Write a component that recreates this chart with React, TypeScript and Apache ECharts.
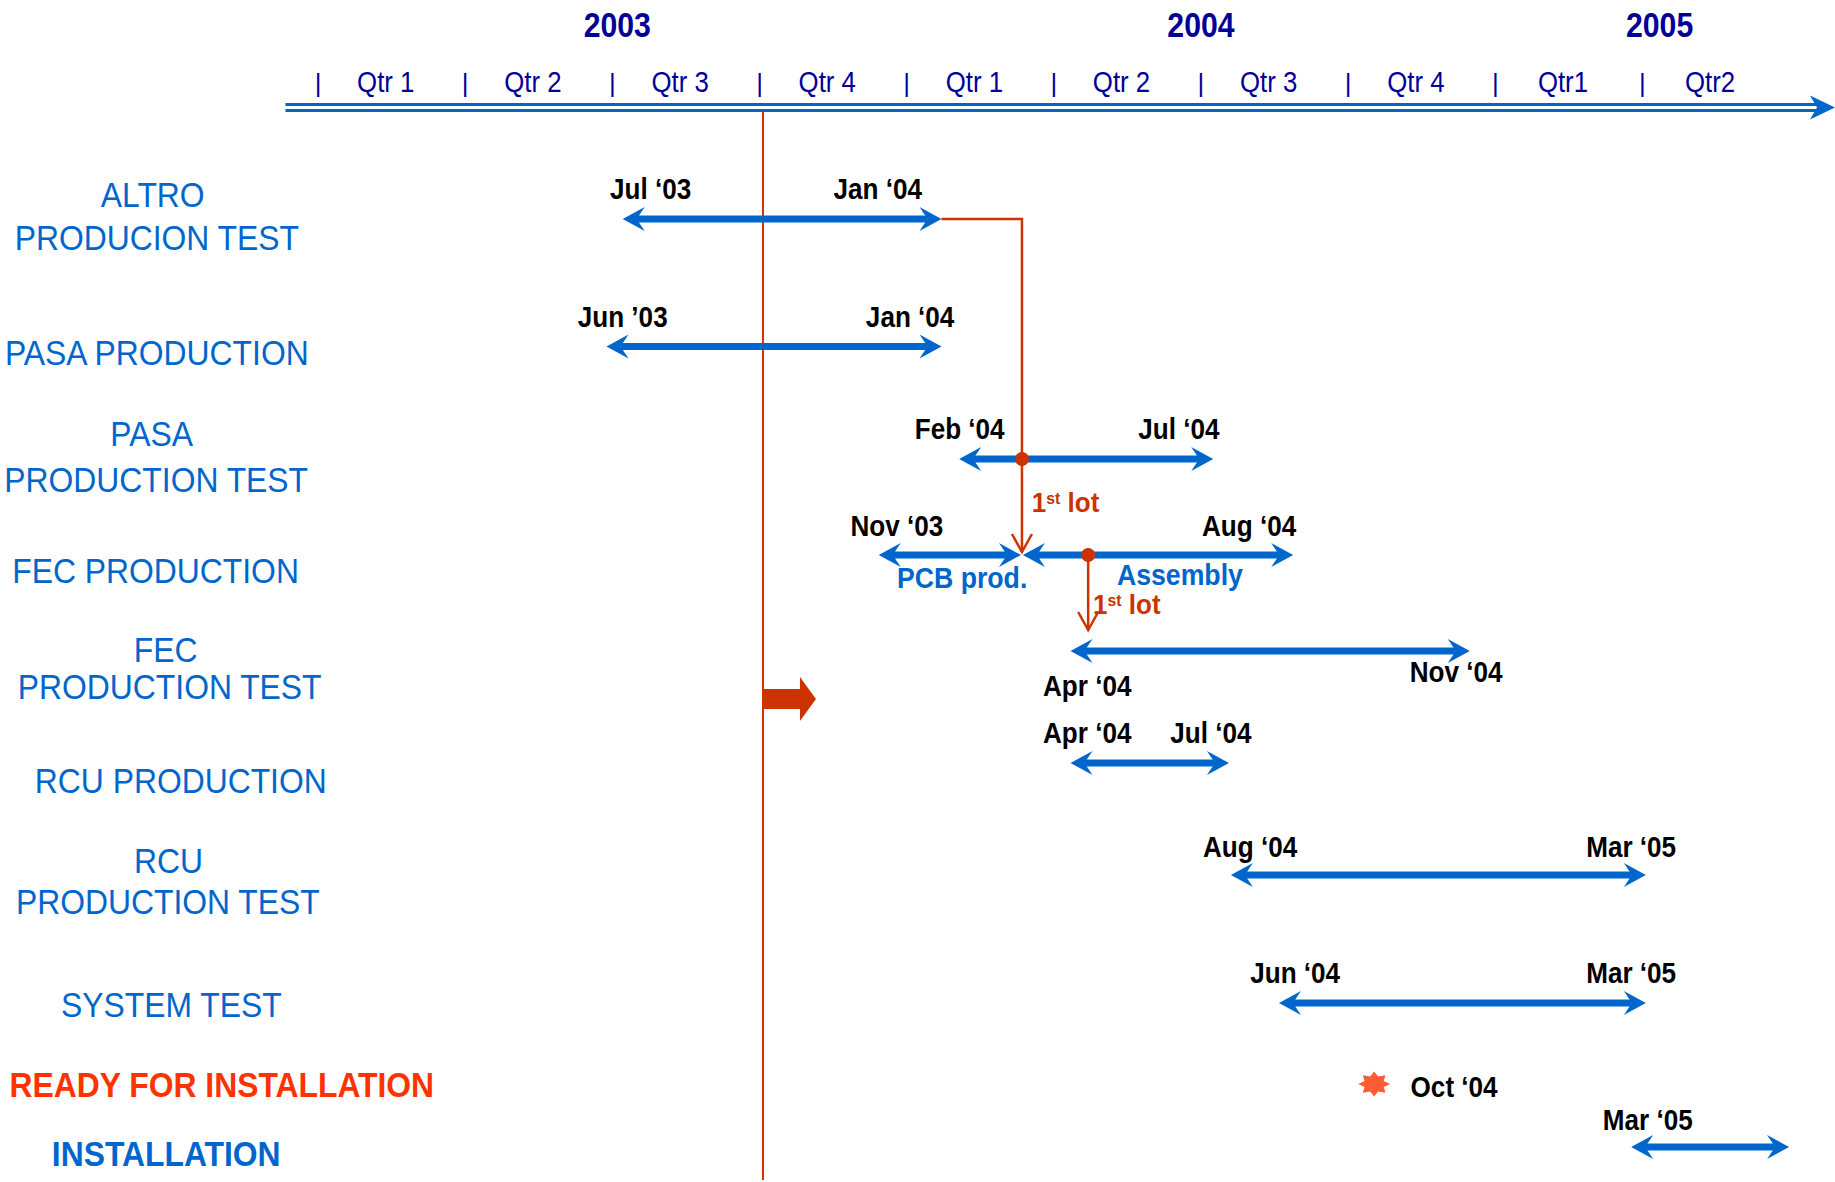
import React, { useEffect, useRef } from "react";
import * as echarts from "echarts";

const WIDTH = 1835;
const HEIGHT = 1182;
const FONT = "'Liberation Sans', Arial, Helvetica, sans-serif";

const BLUE = "#0066CC";
const NAVY = "#000099";
const RUST = "#CC3300";
const FLAME = "#FF3300";

// ---------------- data (x values = months since 1 Jan 2003) ----------------
const tasks = [
  "ALTRO\nPRODUCION TEST",
  "PASA PRODUCTION",
  "PASA\nPRODUCTION TEST",
  "FEC PRODUCTION",
  "FEC\nPRODUCTION TEST",
  "RCU PRODUCTION",
  "RCU\nPRODUCTION TEST",
  "SYSTEM TEST",
  "READY FOR INSTALLATION",
  "INSTALLATION",
];

const years = ["2003", "2004", "2005"];
const yearCenters = [6.1, 18.0, 27.35];

const quarterLabels = ["Qtr 1", "Qtr 2", "Qtr 3", "Qtr 4", "Qtr 1", "Qtr 2", "Qtr 3", "Qtr 4", "Qtr1", "Qtr2"];
const quarterStarts = [0, 3, 6, 9, 12, 15, 18, 21, 24, 27];

// double-headed bars
const barTask = [0, 1, 2, 3, 3, 4, 5, 6, 7, 9];
const barStart = [6.21, 5.88, 13.07, 11.43, 14.37, 15.34, 15.34, 18.61, 19.59, 26.77];
const barEnd = [12.71, 12.71, 18.25, 14.33, 19.88, 23.48, 18.57, 27.07, 27.07, 29.99];

// milestone
const milestoneTask = 8;
const milestoneAt = 21.53;

// "today" line
const todayAt = 9.07;

// date labels
const dateLabelText = [
  "Jul \u201803", "Jan \u201804",
  "Jun \u201903", "Jan \u201804",
  "Feb \u201804", "Jul \u201804",
  "Nov \u201803", "Aug \u201804",
  "Apr \u201804", "Nov \u201804",
  "Apr \u201804", "Jul \u201804",
  "Aug \u201804", "Mar \u201805",
  "Jun \u201804", "Mar \u201805",
  "Oct \u201804",
  "Mar \u201805",
];
const dateLabelAt = [6.78, 11.41, 6.21, 12.07, 13.08, 17.55, 11.8, 18.98, 15.68, 23.2, 15.68, 18.2, 19.0, 26.77, 19.92, 26.77, 23.16, 27.11];
const dateLabelTask = [0, 0, 1, 1, 2, 2, 3, 3, 4, 4, 5, 5, 6, 6, 7, 7, 8, 9];

// phase labels on FEC production
const phaseText = ["PCB prod.", "Assembly"];
const phaseAt = [13.13, 17.57];
const phaseTask = [3, 3];

// "1st lot" links
const lotLinkFrom = [12.71, 15.7];
const lotLinkAt = [14.35, 15.7];
const lotLinkFromTask = [0, 3];
const lotLinkToTask = [3, 4];
const lotDotTask = [2, 3];
const lotLabelAt = [14.55, 15.8];
const lotLabelTask = [2, 3];

// ---------------- layout (pixels) ----------------
const X_MIN = -6.485;
const X_MAX = 30.926;
const laneY = [219, 346.5, 459, 555, 651, 763, 875, 1003, 1084, 1147];
const yearY = 25;
const quarterY = 82;
const quarterLabelOffset = 1.38;
const axisLineY = [104.5, 110.5];
const axisStart = -0.665;
const todayTop = 112;
const todayBottom = 1180;
const todayFlagY = 699;
const dateLabelDy = [-30, -30, -29.5, -29.5, -30, -30, -29, -29, 35, 21, -30, -30, -28, -28, -30, -30, 3, -27];
const phaseDy = [23, 20];
const lotLinkEndGap = [3, 21];
const lotLabelDy = [44, 50];
const taskLabelX = [[152.7, 156.8], [156.8], [151.6, 156.2], [155.6], [165.6, 169.7], [180.8], [168.5, 167.9], [171.4], [221.8], [166.2]];
const taskLabelY = [[195.4, 237.6], [353.4], [434.2, 479.8], [571.1], [649.5, 687], [780.6], [861.3, 902.3], [1005.3], [1084.9], [1153.9]];
const taskLabelColor = [BLUE, BLUE, BLUE, BLUE, BLUE, BLUE, BLUE, BLUE, FLAME, BLUE];
const taskLabelBold = [false, false, false, false, false, false, false, false, true, true];

const STAR_PATH =
  "path://M20 10 L16 7.51 L17.07 2.93 L12.49 4 L10 0 L7.51 4 L2.93 2.93 L4 7.51 L0 10 L4 12.49 L2.93 17.07 L7.51 16 L10 20 L12.49 16 L17.07 17.07 L16 12.49 Z";

type TxtOpt = { size: number; color: string; bold?: boolean; sx?: number; align?: string; rich?: any };
function txt(x: number, y: number, text: string, o: TxtOpt) {
  const align = o.align || "center";
  return {
    type: "text",
    x,
    y,
    scaleX: o.sx || 1,
    silent: true,
    style: {
      text,
      fill: o.color,
      fontSize: o.size,
      fontWeight: o.bold ? "bold" : "normal",
      fontFamily: FONT,
      textAlign: align,
      align,
      textVerticalAlign: "middle",
      verticalAlign: "middle",
      rich: o.rich,
    },
  };
}

function buildOption() {
  const series: any[] = [];

  // years
  series.push({
    type: "custom",
    name: "years",
    clip: false,
    data: yearCenters.map((c) => [c, yearY]),
    renderItem: (p: any, api: any) => {
      const pt = api.coord([api.value(0), api.value(1)]);
      return txt(pt[0], pt[1], years[p.dataIndex], { size: 36, color: NAVY, bold: true, sx: 0.84 });
    },
  });

  // quarter labels
  series.push({
    type: "custom",
    name: "quarters",
    clip: false,
    data: quarterStarts.map((s) => [s + quarterLabelOffset, quarterY]),
    renderItem: (p: any, api: any) => {
      const pt = api.coord([api.value(0), api.value(1)]);
      return txt(pt[0], pt[1], quarterLabels[p.dataIndex], { size: 30, color: NAVY, sx: 0.86 });
    },
  });

  // quarter separators
  series.push({
    type: "custom",
    name: "quarterTicks",
    clip: false,
    data: quarterStarts.map((s) => [s, quarterY]),
    renderItem: (p: any, api: any) => {
      const pt = api.coord([api.value(0), api.value(1)]);
      return txt(pt[0], pt[1] + 1, "|", { size: 26, color: NAVY });
    },
  });

  // double axis line with arrow
  series.push({
    type: "custom",
    name: "timeAxis",
    clip: false,
    encode: { x: [0, 1] },
    data: [[axisStart, X_MAX]],
    renderItem: (p: any, api: any) => {
      const a = api.coord([api.value(0), 0]);
      const b = api.coord([api.value(1), 0]);
      const x0 = a[0];
      const x1 = b[0];
      const mid = (axisLineY[0] + axisLineY[1]) / 2;
      return {
        type: "group",
        children: [
          { type: "line", shape: { x1: x0, y1: axisLineY[0], x2: x1 - 16, y2: axisLineY[0] }, style: { stroke: BLUE, lineWidth: 3 } },
          { type: "line", shape: { x1: x0, y1: axisLineY[1], x2: x1 - 16, y2: axisLineY[1] }, style: { stroke: BLUE, lineWidth: 3 } },
          {
            type: "polygon",
            shape: { points: [[x1, mid], [x1 - 25, mid - 12], [x1 - 18, mid], [x1 - 25, mid + 12]] },
            style: { fill: BLUE },
          },
        ],
      };
    },
  });

  // today line + flag arrow
  series.push({
    type: "custom",
    name: "today",
    clip: false,
    data: [[todayAt, todayFlagY]],
    renderItem: (p: any, api: any) => {
      const pt = api.coord([api.value(0), api.value(1)]);
      const x = pt[0];
      const y = pt[1];
      return {
        type: "group",
        children: [
          { type: "line", shape: { x1: x, y1: todayTop, x2: x, y2: todayBottom }, style: { stroke: RUST, lineWidth: 2 } },
          {
            type: "polygon",
            shape: {
              points: [[x, y - 10], [x + 37, y - 10], [x + 37, y - 22], [x + 53, y], [x + 37, y + 22], [x + 37, y + 10], [x, y + 10]],
            },
            style: { fill: RUST },
          },
        ],
      };
    },
  });

  // bars (double-headed arrows)
  series.push({
    type: "custom",
    name: "bars",
    clip: false,
    encode: { x: [0, 1], y: 2 },
    data: barStart.map((s, i) => [s, barEnd[i], laneY[barTask[i]]]),
    renderItem: (p: any, api: any) => {
      const s = api.coord([api.value(0), api.value(2)]);
      const e = api.coord([api.value(1), api.value(2)]);
      const y = s[1];
      const L = 22;
      const Hh = 12;
      const N = 14;
      return {
        type: "group",
        children: [
          { type: "line", shape: { x1: s[0] + N, y1: y, x2: e[0] - N, y2: y }, style: { stroke: BLUE, lineWidth: 7 } },
          { type: "polygon", shape: { points: [[s[0], y], [s[0] + L, y - Hh], [s[0] + N, y], [s[0] + L, y + Hh]] }, style: { fill: BLUE } },
          { type: "polygon", shape: { points: [[e[0], y], [e[0] - L, y - Hh], [e[0] - N, y], [e[0] - L, y + Hh]] }, style: { fill: BLUE } },
        ],
      };
    },
  });

  // 1st lot links
  series.push({
    type: "custom",
    name: "lotLinks",
    clip: false,
    encode: { x: [0, 1], y: [2, 3] },
    data: lotLinkAt.map((x, i) => [lotLinkFrom[i], x, laneY[lotLinkFromTask[i]], laneY[lotLinkToTask[i]] - lotLinkEndGap[i], laneY[lotDotTask[i]]]),
    renderItem: (p: any, api: any) => {
      const a = api.coord([api.value(0), api.value(2)]);
      const b = api.coord([api.value(1), api.value(2)]);
      const c = api.coord([api.value(1), api.value(3)]);
      const d = api.coord([api.value(1), api.value(4)]);
      const children: any[] = [
        { type: "polyline", shape: { points: [a, b, c] }, style: { stroke: RUST, lineWidth: 2.5, fill: null } },
        { type: "polyline", shape: { points: [[c[0] - 10, c[1] - 18], c, [c[0] + 10, c[1] - 18]] }, style: { stroke: RUST, lineWidth: 2.5, fill: null } },
        { type: "circle", shape: { cx: d[0], cy: d[1], r: 7 }, style: { fill: RUST } },
      ];
      return { type: "group", children };
    },
  });

  // milestone star
  series.push({
    type: "scatter",
    name: "milestone",
    symbol: STAR_PATH,
    symbolSize: [32, 25],
    itemStyle: { color: FLAME },
    silent: true,
    data: [[milestoneAt, laneY[milestoneTask]]],
  });

  // date labels
  series.push({
    type: "custom",
    name: "dateLabels",
    clip: false,
    data: dateLabelAt.map((x, i) => [x, laneY[dateLabelTask[i]] + dateLabelDy[i]]),
    renderItem: (p: any, api: any) => {
      const pt = api.coord([api.value(0), api.value(1)]);
      return txt(pt[0], pt[1], dateLabelText[p.dataIndex], { size: 29, color: "#000000", bold: true, sx: 0.9 });
    },
  });

  // phase labels
  series.push({
    type: "custom",
    name: "phases",
    clip: false,
    data: phaseAt.map((x, i) => [x, laneY[phaseTask[i]] + phaseDy[i]]),
    renderItem: (p: any, api: any) => {
      const pt = api.coord([api.value(0), api.value(1)]);
      return txt(pt[0], pt[1], phaseText[p.dataIndex], { size: 29, color: BLUE, bold: true, sx: 0.92 });
    },
  });

  // 1st lot labels
  series.push({
    type: "custom",
    name: "lotLabels",
    clip: false,
    data: lotLabelAt.map((x, i) => [x, laneY[lotLabelTask[i]] + lotLabelDy[i]]),
    renderItem: (p: any, api: any) => {
      const pt = api.coord([api.value(0), api.value(1)]);
      return txt(pt[0], pt[1], "{n|1}{s|st}{n| lot}", {
        size: 28,
        color: RUST,
        bold: true,
        sx: 0.93,
        align: "left",
        rich: {
          n: { fontSize: 28, fontWeight: "bold", fontFamily: FONT, fill: RUST, color: RUST },
          s: { fontSize: 17, fontWeight: "bold", fontFamily: FONT, fill: RUST, color: RUST, verticalAlign: "top" },
        },
      });
    },
  });

  // task labels
  series.push({
    type: "custom",
    name: "taskLabels",
    clip: false,
    data: tasks.map((t, i) => [0, taskLabelY[i][0]]),
    renderItem: (p: any, api: any) => {
      const i = p.dataIndex;
      const lines = tasks[i].split("\n");
      return {
        type: "group",
        children: lines.map((ln, k) =>
          txt(taskLabelX[i][k], taskLabelY[i][k], ln, {
            size: 35,
            color: taskLabelColor[i],
            bold: taskLabelBold[i],
            sx: 0.91,
          })
        ),
      };
    },
  });

  return {
    animation: false,
    backgroundColor: "#ffffff",
    grid: { left: 0, right: 0, top: 0, bottom: 0, containLabel: false },
    xAxis: { type: "value", min: X_MIN, max: X_MAX, show: false },
    yAxis: { type: "value", min: 0, max: HEIGHT, inverse: true, show: false },
    tooltip: { show: false },
    series,
  };
}

export default function App() {
  const ref = useRef<HTMLDivElement>(null);
  useEffect(() => {
    document.body.style.margin = "0";
    if (!ref.current) return;
    const chart = echarts.init(ref.current, undefined, { renderer: "svg" });
    chart.setOption(buildOption() as any);
    return () => chart.dispose();
  }, []);
  return (
    <div style={{ position: "fixed", left: 0, top: 0, width: WIDTH + "px", height: HEIGHT + "px", background: "#ffffff" }}>
      <div ref={ref} style={{ width: WIDTH + "px", height: HEIGHT + "px" }} />
    </div>
  );
}
